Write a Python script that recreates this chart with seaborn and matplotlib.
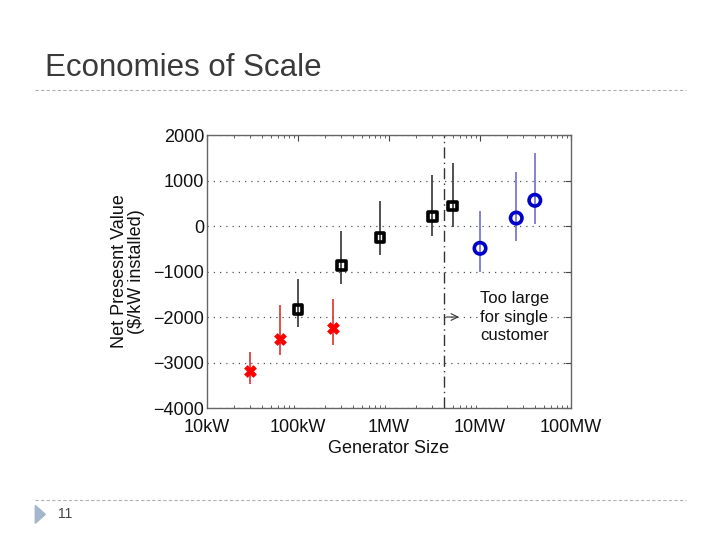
import numpy as np
import pandas as pd
import matplotlib
matplotlib.use("Agg")
import matplotlib.pyplot as plt
from matplotlib.lines import Line2D
from matplotlib.patches import Polygon
import seaborn as sns

# --- data ----------------------------------------------------------------
# small generators (red crosses)
small_size = [3.0e4, 6.4e4, 2.45e5]
small_npv = [-3180, -2490, -2240]
small_lo = [-3470, -2840, -2620]
small_hi = [-2760, -1740, -1610]

# mid-size generators (black squares)
mid_size = [1.0e5, 3.0e5, 8.0e5, 3.0e6, 5.0e6]
mid_npv = [-1830, -870, -250, 210, 440]
mid_lo = [-2210, -1275, -640, -210, -15]
mid_hi = [-1160, -100, 550, 1120, 1380]

# large generators (blue circles)
large_size = [1.0e7, 2.5e7, 4.0e7]
large_npv = [-490, 175, 565]
large_lo = [-1000, -320, 45]
large_hi = [330, 1180, 1600]

cutoff_size = 4.0e6
xtick_vals = [1e4, 1e5, 1e6, 1e7, 1e8]
xtick_labels = ["10kW", "100kW", "1MW", "10MW", "100MW"]
ytick_vals = [-4000, -3000, -2000, -1000, 0, 1000, 2000]


def main():
    sns.set_theme(style="white")
    plt.rcParams["font.family"] = ["Liberation Sans", "DejaVu Sans"]

    fig = plt.figure(figsize=(7.2, 5.4), dpi=100)
    ax = fig.add_axes([0.2875, 0.2444, 0.5056, 0.5056])

    groups = [
        (small_size, small_npv, small_lo, small_hi, "#e03030", "#ff0000", "X", 72, True),
        (mid_size, mid_npv, mid_lo, mid_hi, "#333333", "#000000", "s", 38, False),
        (large_size, large_npv, large_lo, large_hi, "#6e6ed2", "#0000cc", "o", 68, False),
    ]
    for xs, ys, lo, hi, bar_c, mk_c, mk, s, filled in groups:
        ax.vlines(xs, lo, hi, color=bar_c, lw=1.2, zorder=2)
        df = pd.DataFrame({"size": xs, "npv": ys})
        if filled:
            sns.scatterplot(data=df, x="size", y="npv", marker=mk, s=s,
                            color=mk_c, edgecolor=mk_c, linewidth=0.5,
                            ax=ax, zorder=3)
        else:
            sns.scatterplot(data=df, x="size", y="npv", marker=mk, s=s,
                            facecolor="none", edgecolor=mk_c, linewidth=2.6,
                            ax=ax, zorder=3)

    # size threshold line and note
    ax.axvline(cutoff_size, color="#333333", lw=1.0, ls=(0, (8, 3, 1, 3)), zorder=1)
    ax.annotate("", xy=(6.3e6, -2000), xytext=(cutoff_size, -2000),
                arrowprops=dict(arrowstyle="->", color="#333333", lw=0.8))
    ax.text(1.0e7, -1430, "Too large\nfor single\ncustomer", fontsize=12,
            va="top", ha="left", linespacing=1.3, color="#111111",
            bbox=dict(facecolor="white", edgecolor="none", pad=1), zorder=4)

    ax.set_xscale("log")
    ax.set_xlim(1e4, 1e8)
    ax.set_ylim(-4000, 2000)
    ax.set_xticks(xtick_vals)
    ax.set_xticklabels(xtick_labels)
    ax.set_yticks(ytick_vals)
    ax.yaxis.grid(True, ls=(0, (1, 4)), color="#555555", lw=0.9)
    ax.xaxis.grid(False)
    ax.tick_params(axis="both", which="both", direction="in", top=True,
                   right=True, labelsize=13, colors="#444444",
                   labelcolor="#111111")
    ax.tick_params(axis="y", pad=2)
    ax.tick_params(axis="x", pad=8)
    ax.tick_params(which="major", length=4, width=0.8)
    ax.tick_params(which="minor", length=2.5, width=0.6, bottom=True, top=True)
    for sp in ax.spines.values():
        sp.set_color("#666666")
        sp.set_linewidth(1.0)

    ax.set_xlabel("Generator Size", fontsize=13, color="#111111", labelpad=3)
    ax.set_ylabel("Net Presesnt Value\n($/kW installed)", fontsize=13,
                  color="#111111", labelpad=6, linespacing=1.0)

    # slide decoration
    fig.text(0.0625, 0.874, "Economies of Scale", fontsize=22.5,
             color="#3a3a3a", va="center", ha="left")
    fig.add_artist(Line2D([0.049, 0.953], [0.833, 0.833], color="#b0b0b0",
                          lw=0.8, ls=(0, (3, 2))))
    fig.add_artist(Line2D([0.049, 0.953], [0.074, 0.074], color="#b0b0b0",
                          lw=0.8, ls=(0, (3, 2))))
    fig.add_artist(Polygon([[0.049, 0.064], [0.049, 0.031], [0.063, 0.0475]],
                           closed=True, color="#a4b6cc", transform=fig.transFigure))
    fig.text(0.08, 0.0485, "11", fontsize=10, color="#444444",
             va="center", ha="left")

    fig.savefig("out.png", dpi=100)


if __name__ == "__main__":
    main()
